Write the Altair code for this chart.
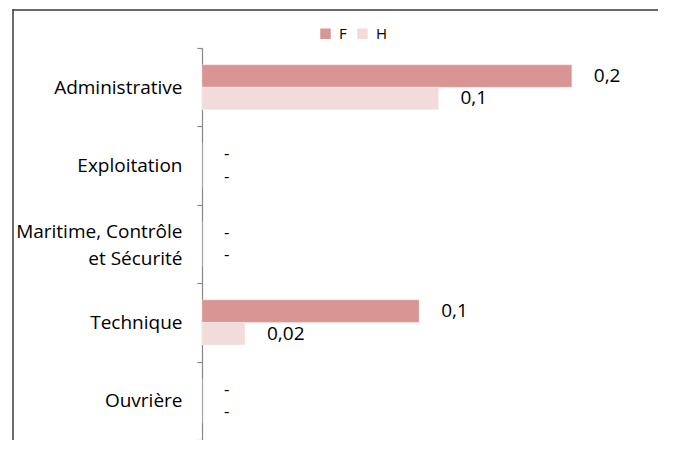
import altair as alt
import pandas as pd

categories = ["Administrative", "Exploitation", "Maritime, Contrôle|et Sécurité", "Technique", "Ouvrière"]
series = ["F", "H"]
values_F = [0.172, 0.0, 0.0, 0.101, 0.0]
values_H = [0.110, 0.0, 0.0, 0.020, 0.0]
labels_F = ["0,2", "-", "-", "0,1", "-"]
labels_H = ["0,1", "-", "-", "0,02", "-"]
colors = ["#D99594", "#F2DCDB"]

rows = []
for i, c in enumerate(categories):
    rows.append({"cat": c, "series": "F", "value": values_F[i], "label": labels_F[i]})
    rows.append({"cat": c, "series": "H", "value": values_H[i], "label": labels_H[i]})
df = pd.DataFrame(rows)

FONT = "Open Sans"

y_enc = alt.Y(
    "cat:N",
    sort=categories,
    scale=alt.Scale(paddingInner=0, paddingOuter=0),
    axis=alt.Axis(
        title=None,
        tickBand="extent",
        domainColor="#868686",
        tickColor="#868686",
        domainWidth=1.2,
        tickWidth=1.2,
        tickSize=5,
        labelFont=FONT,
        labelFontSize=19,
        labelColor="#000000",
        labelPadding=15,
        labelLineHeight=27,
        labelOffset={"condition": {"test": "indexof(datum.label, '|') >= 0", "value": -13}, "value": 0},
        labelExpr="split(datum.label, '|')",
    ),
)
yoff_enc = alt.YOffset("series:N", sort=series, scale=alt.Scale(paddingInner=0, paddingOuter=0.74))
x_enc = alt.X("value:Q", scale=alt.Scale(domain=[0, 0.2], zero=True, nice=False), axis=None)

bars = alt.Chart(df).mark_bar(stroke="#ffffff", strokeWidth=0.5, strokeOpacity=0.6).encode(
    x=x_enc,
    y=y_enc,
    yOffset=yoff_enc,
    color=alt.Color(
        "series:N",
        sort=series,
        scale=alt.Scale(domain=series, range=colors),
        legend=alt.Legend(
            title=None,
            orient="none",
            legendX=116,
            legendY=-22,
            direction="horizontal",
            symbolType="square",
            symbolSize=110,
            symbolStrokeWidth=0,
            labelFont=FONT,
            labelFontSize=15,
            labelColor="#000000",
            labelOffset=6,
            columnPadding=8,
            padding=0,
        ),
    ),
)

texts = alt.Chart(df).mark_text(
    align="left", baseline="middle", dx=22, font=FONT, color="#000000"
).encode(
    x=x_enc,
    y=alt.Y("cat:N", sort=categories),
    yOffset=yoff_enc,
    text="label:N",
    size=alt.condition("datum.label == '-'", alt.value(17), alt.value(19)),
)

frame_df = pd.DataFrame({"k": [0]})
top_line = alt.Chart(frame_df).mark_rect(color="#3a3a3a", strokeWidth=0).encode(
    x=alt.value(-189.75),
    x2=alt.value(456),
    y=alt.value(-38.75),
    y2=alt.value(-37.25),
)
left_line = alt.Chart(frame_df).mark_rect(color="#3a3a3a", strokeWidth=0).encode(
    x=alt.value(-189.75),
    x2=alt.value(-188.25),
    y=alt.value(-38.75),
    y2=alt.value(392),
)

chart = alt.layer(top_line, left_line, bars, texts).properties(
    width=430,
    height=392,
    background="#ffffff",
    autosize=alt.AutoSizeParams(type="none"),
    padding={"left": 194, "top": 40, "right": 26, "bottom": 0},
).configure_view(stroke=None)

chart.save("out.html", embed_options={"renderer": "svg", "actions": False})
